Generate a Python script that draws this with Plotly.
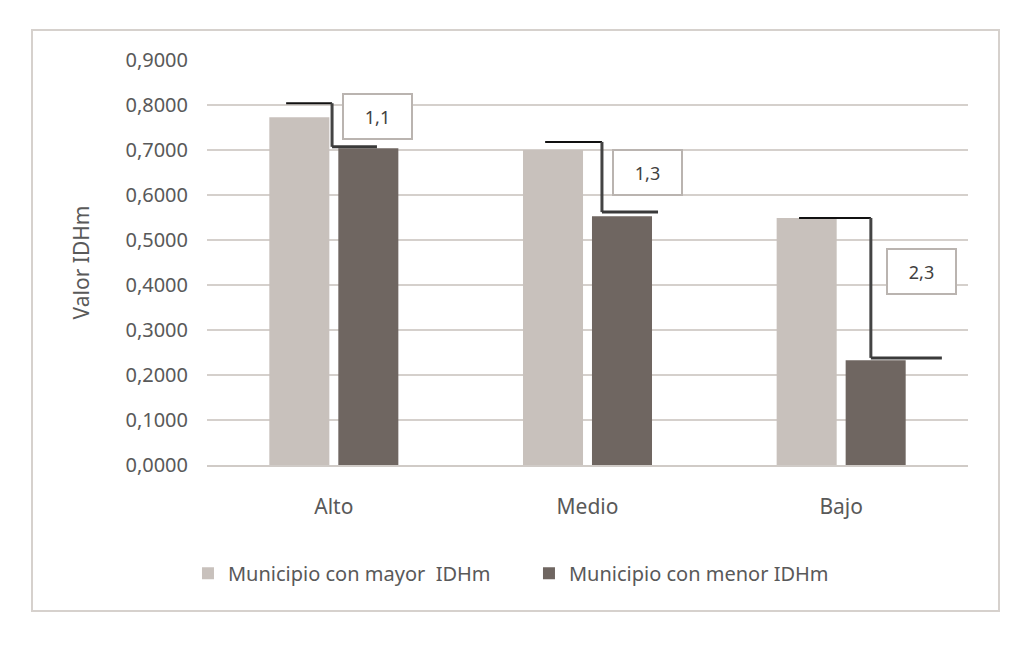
import plotly.graph_objects as go

# IDHm by level group
niveles = ["Alto", "Medio", "Bajo"]
mayor_idhm = [0.773, 0.700, 0.549]
menor_idhm = [0.704, 0.553, 0.233]
razon_labels = ["1,1", "1,3", "2,3"]

# bracket levels (upper and lower horizontal strokes)
bracket_top = [0.804, 0.718, 0.549]
bracket_bottom = [0.707, 0.562, 0.238]
label_y = [0.774, 0.651, 0.430]

# bracket geometry in category units relative to the group centre
bracket_start = [-0.188, -0.167, -0.166]
bracket_mid = [-0.007, 0.057, 0.117]
bracket_end = [0.170, 0.278, 0.397]
label_dx = [0.171, 0.236, 0.315]

FONT = "Noto Sans"
TXT = "#595959"

fig = go.Figure()
fig.add_trace(go.Bar(x=niveles, y=mayor_idhm, name="Municipio con mayor  IDHm",
                     marker_color="#c8c1bc", marker_line_width=0))
fig.add_trace(go.Bar(x=niveles, y=menor_idhm, name="Municipio con menor IDHm",
                     marker_color="#6f6661", marker_line_width=0))

shapes = []
annotations = []
for i in range(len(niveles)):
    x0 = i + bracket_start[i]
    xm = i + bracket_mid[i]
    x1 = i + bracket_end[i]
    shapes.append(dict(type="line", xref="x", yref="y", x0=x0, x1=xm,
                       y0=bracket_top[i], y1=bracket_top[i],
                       line=dict(color="#111111", width=2)))
    shapes.append(dict(type="line", xref="x", yref="y", x0=xm, x1=xm,
                       y0=bracket_top[i], y1=bracket_bottom[i],
                       line=dict(color="#444444", width=3)))
    shapes.append(dict(type="line", xref="x", yref="y", x0=xm, x1=x1,
                       y0=bracket_bottom[i], y1=bracket_bottom[i],
                       line=dict(color="#3a3a3a", width=3)))
    annotations.append(dict(x=i + label_dx[i], y=label_y[i], xref="x", yref="y",
                            text=razon_labels[i], showarrow=False,
                            width=67, height=43, borderpad=0,
                            bordercolor="#bab4b0", borderwidth=2,
                            bgcolor="white",
                            font=dict(family=FONT, size=18, color="#404040")))

# outer chart frame (page has an 8px body margin, so the plot sits at 199..960)
shapes.append(dict(type="rect", xref="paper", yref="paper",
                   x0=(32 - 207) / 761, x1=(999 - 207) / 761,
                   y0=(465 - 611) / 405, y1=(465 - 30) / 405,
                   line=dict(color="#d6d1cd", width=2), layer="below"))

fig.update_layout(
    width=1017, height=645,
    margin=dict(l=199, r=57, t=52, b=188),
    paper_bgcolor="white", plot_bgcolor="white",
    barmode="group", bargap=0.456, bargroupgap=0.13,
    separators=",.",
    font=dict(family=FONT, size=20, color=TXT),
    shapes=shapes, annotations=annotations,
    showlegend=True,
    legend=dict(orientation="h", x=-0.025, y=-0.267, yanchor="middle",
                xanchor="left", font=dict(family=FONT, size=20, color=TXT),
                entrywidth=296, entrywidthmode="pixels",
                bgcolor="rgba(0,0,0,0)"),
)
fig.update_xaxes(showgrid=False, showline=True, linecolor="#d0cbc7", linewidth=2,
                 ticks="", ticklabelstandoff=22,
                 tickfont=dict(family=FONT, size=21, color=TXT))
fig.update_yaxes(range=[0, 0.9], dtick=0.1, tickformat=".4f",
                 showgrid=True, gridcolor="#d5d0cc", gridwidth=1.5,
                 zeroline=False, showline=False, ticks="", ticklabelstandoff=18,
                 tickfont=dict(family=FONT, size=20, color=TXT),
                 title=dict(text="Valor IDHm", standoff=30,
                            font=dict(family=FONT, size=21, color=TXT)))

fig.write_html("out.html")
